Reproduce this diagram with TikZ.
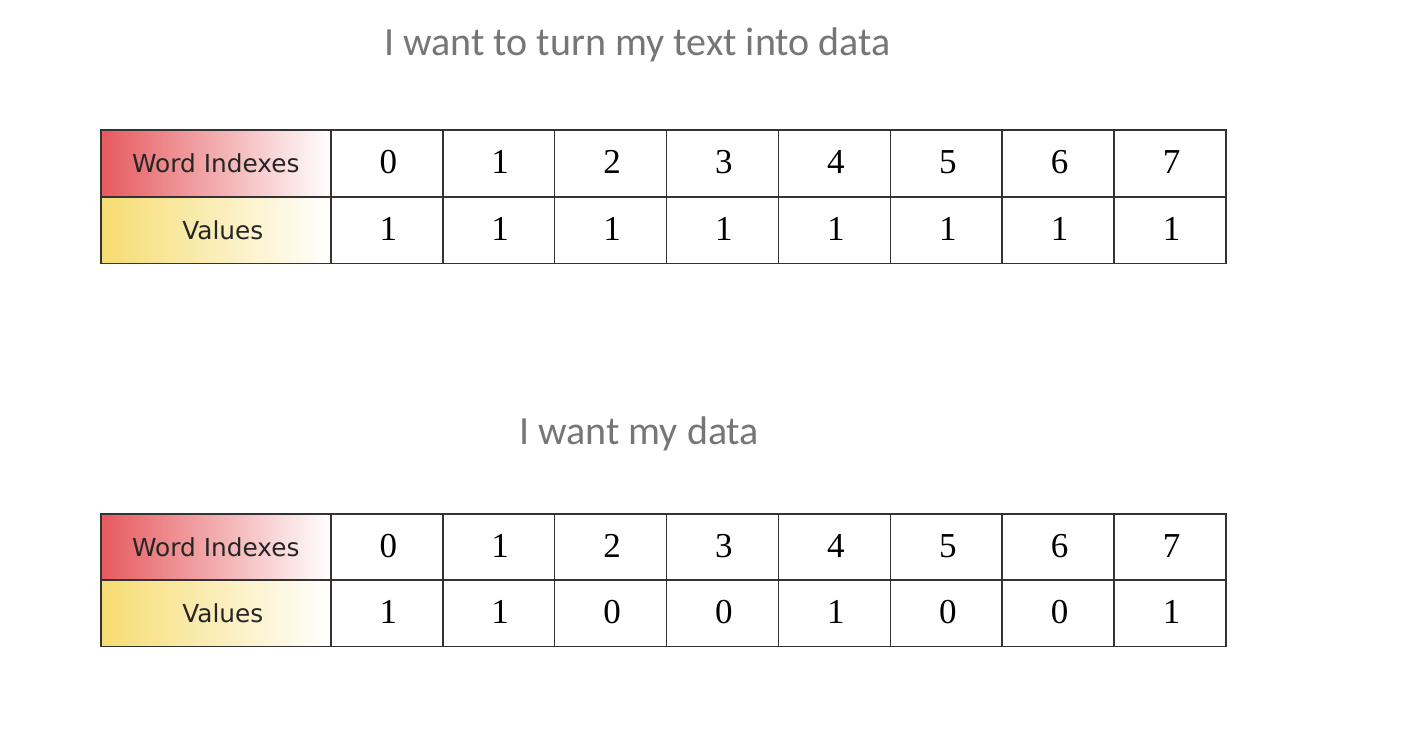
\documentclass[tikz,border=0pt]{standalone}
\usepackage{fontspec}
\setmainfont{Liberation Serif}
\newfontfamily\titlefont{Carlito}
\newfontfamily\labelfont{DejaVu Sans}
\definecolor{titlegray}{HTML}{767676}
\definecolor{gridline}{HTML}{333333}
\definecolor{hdrred}{HTML}{E65A5E}
\definecolor{hdryellow}{HTML}{F6DC72}
\begin{document}
\begin{tikzpicture}[x=1pt,y=-1pt,
  cellbox/.style={draw=gridline, line width=1.6pt, minimum width=111.9pt, minimum height=66.5pt, inner sep=0pt, anchor=north west, font=\fontsize{35}{40}\selectfont},
  labelbox/.style={draw=gridline, line width=1.6pt, minimum width=230pt, minimum height=66.5pt, inner sep=0pt, anchor=north west, right color=white, font=\labelfont\fontsize{24.8}{29}\selectfont, text=black!85},
  titletext/.style={font=\titlefont\fontsize{40}{46}\selectfont, text=titlegray, inner sep=0pt}]
\useasboundingbox (0,0) rectangle (1426,728);
\fill[white] (0,0) rectangle (1426,728);
\node[titletext] (title1) at (637.5,45) {I want to turn my text into data};
\node[titletext] (title2) at (639,434) {I want my data};
% table 1
\node[labelbox, left color=hdrred] (t1hi) at (100,129) {Word Indexes};
\node[labelbox, left color=hdryellow] (t1hv) at (100,196) {\hspace*{14pt}Values};
\foreach \i/\v in {0/1,1/1,2/1,3/1,4/1,5/1,6/1,7/1}{
  \node[cellbox] (t1i\i) at ({330+111.9*\i},129) {\hspace*{3pt}\raisebox{3pt}{\i}};
  \node[cellbox] (t1v\i) at ({330+111.9*\i},196) {\hspace*{3pt}\raisebox{2pt}{\v}};
}
% table 2
\node[labelbox, left color=hdrred] (t2hi) at (100,513) {Word Indexes};
\node[labelbox, left color=hdryellow] (t2hv) at (100,579) {\hspace*{14pt}Values};
\foreach \i/\v in {0/1,1/1,2/0,3/0,4/1,5/0,6/0,7/1}{
  \node[cellbox] (t2i\i) at ({330+111.9*\i},513) {\hspace*{3pt}\raisebox{3pt}{\i}};
  \node[cellbox] (t2v\i) at ({330+111.9*\i},579) {\hspace*{3pt}\raisebox{2pt}{\v}};
}
\end{tikzpicture}
\end{document}
